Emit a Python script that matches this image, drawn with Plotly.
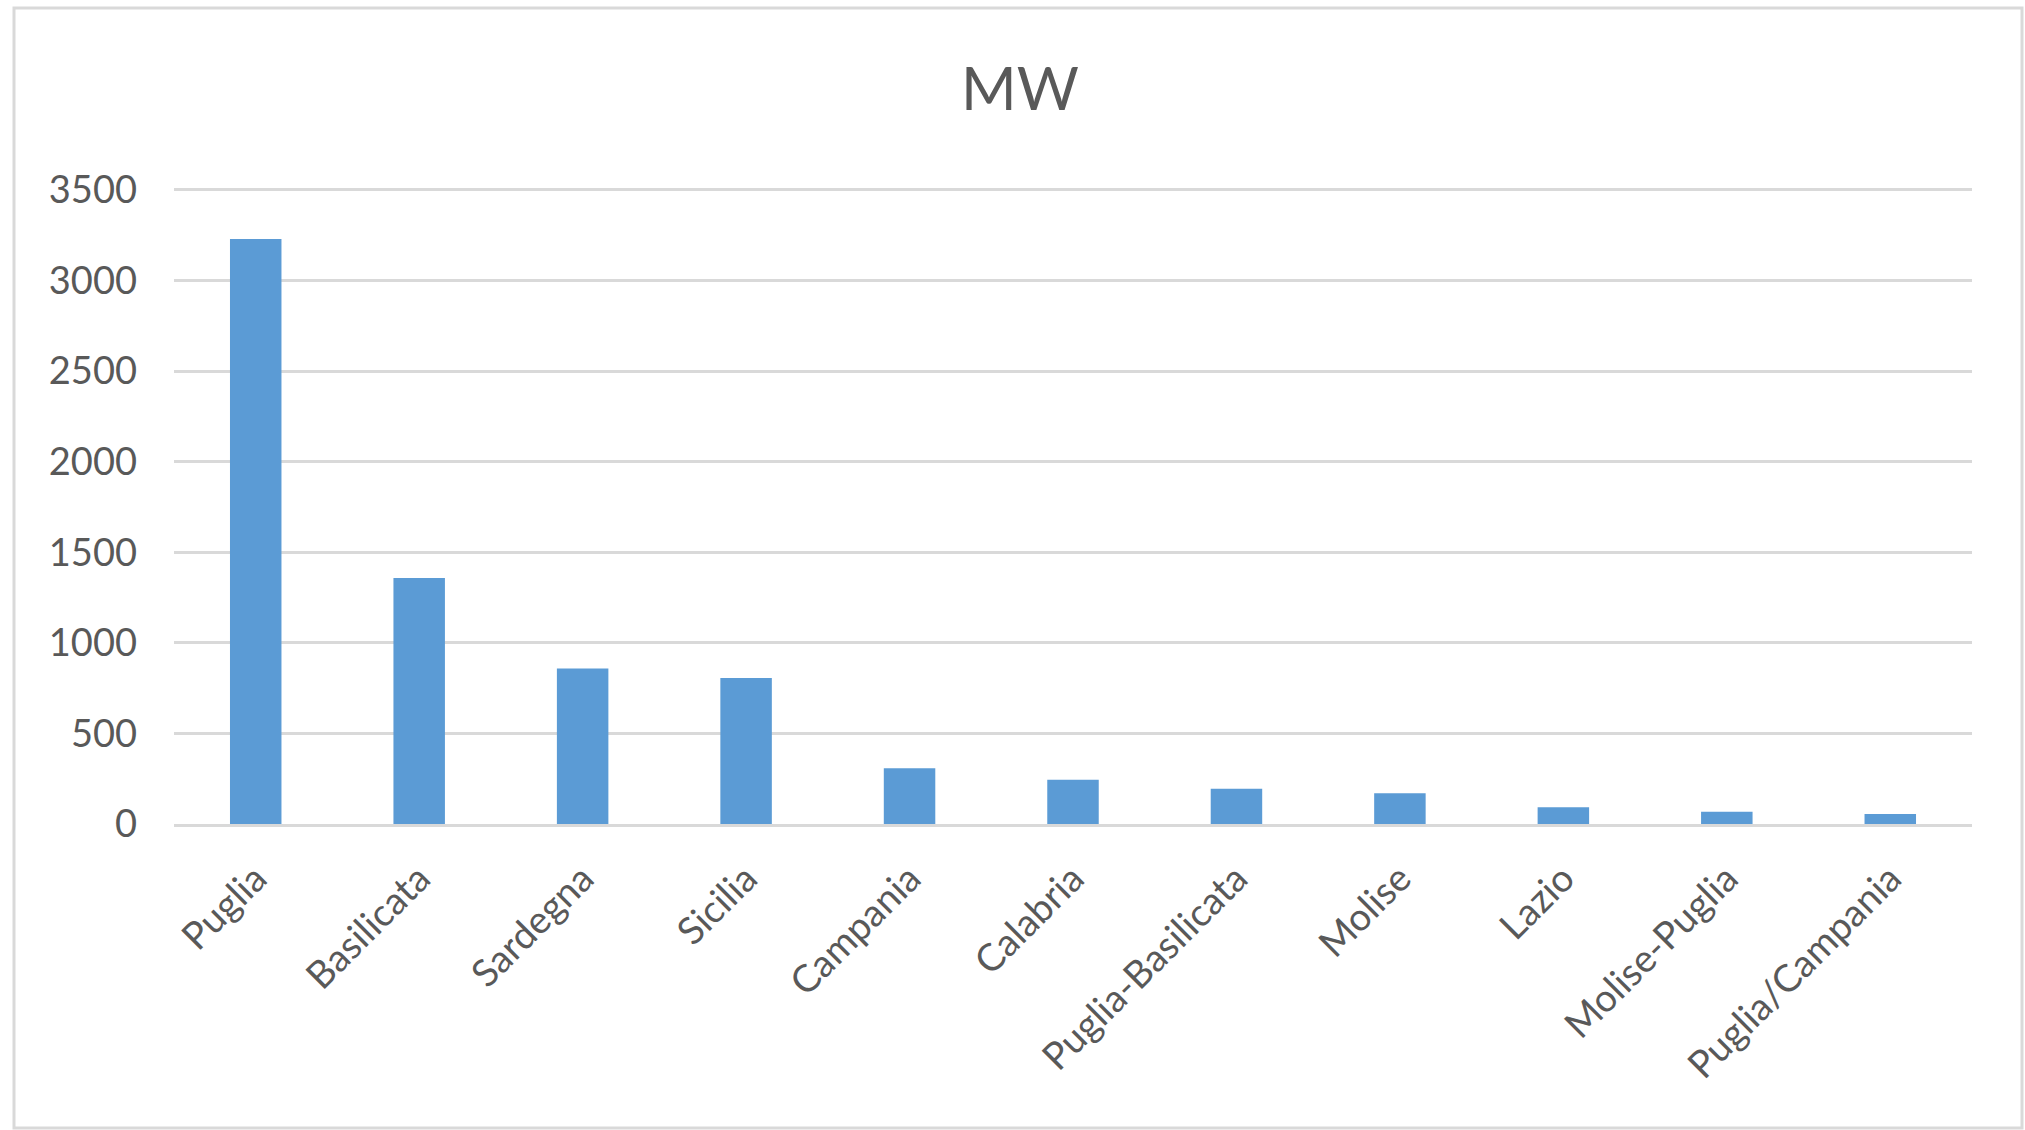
import plotly.graph_objects as go

# ---- data ----
regions = ["Puglia", "Basilicata", "Sardegna", "Sicilia", "Campania", "Calabria",
           "Puglia-Basilicata", "Molise", "Lazio", "Molise-Puglia", "Puglia/Campania"]
mw_values = [3228, 1358, 858, 806, 307, 244, 195, 170, 93, 68, 55]
y_ticks = [0, 500, 1000, 1500, 2000, 2500, 3000, 3500]
chart_title = "MW"

# ---- layout geometry (pixels) ----
W, H = 2025, 1130
L, R, T, B = 174, 53, 188, 306
pw, ph = W - L - R, H - T - B

def px_x(x):
    return (x - L) / pw

def px_y(y):
    return (H - B - y) / ph

TEXT = "#595959"
GRID = "#D9D9D9"
FONT = "Lato"

fig = go.Figure(go.Bar(
    x=regions, y=mw_values,
    marker=dict(color="#5B9BD5", line=dict(width=0)),
    width=0.315,
))

fig.update_layout(
    width=W, height=H,
    margin=dict(l=L, r=R, t=T, b=B, autoexpand=False),
    paper_bgcolor="white", plot_bgcolor="white",
    font=dict(family=FONT, color=TEXT),
    showlegend=False,
    annotations=[dict(
        text=chart_title, xref="paper", yref="paper",
        x=px_x(1020), y=px_y(87), xanchor="center", yanchor="middle",
        showarrow=False, font=dict(family=FONT, size=60, color=TEXT),
    )],
    shapes=[dict(
        type="rect", xref="paper", yref="paper",
        x0=px_x(14), x1=px_x(2022), y0=px_y(1128), y1=px_y(8),
        line=dict(color=GRID, width=3), fillcolor="rgba(0,0,0,0)", layer="below",
    )],
)

fig.update_yaxes(
    range=[0, 3510], tickvals=y_ticks, ticktext=[str(v) for v in y_ticks],
    showgrid=True, gridcolor=GRID, gridwidth=3,
    zeroline=False, showline=False, ticks="",
    ticklabelstandoff=36,
    tickfont=dict(family=FONT, size=38, color=TEXT),
)
fig.update_xaxes(
    showgrid=False, showline=True, linecolor=GRID, linewidth=3,
    ticks="", tickangle=-45, ticklabelstandoff=14,
    tickfont=dict(family=FONT, size=38, color=TEXT),
)

fig.write_html(
    "out.html",
    config={"displayModeBar": False},
    post_script="document.body.style.margin='0';document.body.style.overflow='hidden';",
)
